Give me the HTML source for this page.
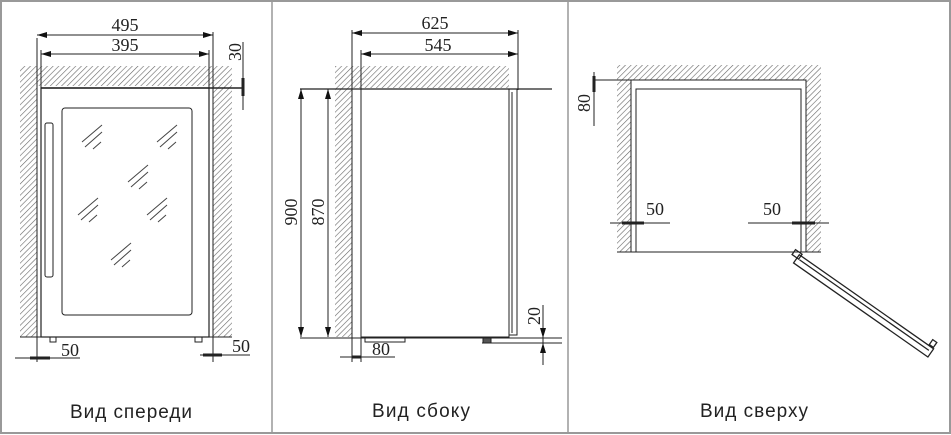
<!DOCTYPE html>
<html><head><meta charset="utf-8"><style>
html,body{margin:0;padding:0;background:#fff;}
svg{display:block;}
.n{font-family:"Liberation Serif",serif;font-size:18px;fill:#222;}
.l{font-family:"Liberation Sans","DejaVu Sans",sans-serif;font-size:19px;fill:#222;}
</style></head><body>
<svg width="951" height="435" viewBox="0 0 951 435" xmlns="http://www.w3.org/2000/svg">
<defs>
<pattern id="h" width="4" height="4" patternUnits="userSpaceOnUse" patternTransform="rotate(45)">
<line x1="0" y1="0" x2="0" y2="4" stroke="#666" stroke-width="1.2"/>
</pattern>
<marker id="a" markerWidth="10" markerHeight="6" refX="10" refY="3" orient="auto" markerUnits="userSpaceOnUse">
<path d="M0,0 L10,3 L0,6 z" fill="#111"/></marker>
<marker id="b" markerWidth="10" markerHeight="6" refX="0" refY="3" orient="auto" markerUnits="userSpaceOnUse">
<path d="M10,0 L0,3 L10,6 z" fill="#111"/></marker>
</defs>
<rect x="1" y="1" width="949" height="432" fill="none" stroke="#999" stroke-width="2"/>
<line x1="272" y1="1" x2="272" y2="433" stroke="#999" stroke-width="1.5"/>
<line x1="568" y1="1" x2="568" y2="433" stroke="#999" stroke-width="1.5"/>

<g stroke="#222" stroke-width="1" fill="none">
<!-- FRONT -->
<rect x="20" y="66" width="212" height="20" fill="url(#h)" stroke="none"/>
<rect x="20" y="86" width="17" height="251" fill="url(#h)" stroke="none"/>
<rect x="213" y="86" width="19" height="251" fill="url(#h)" stroke="none"/>
<line x1="37" y1="38" x2="37" y2="362"/>
<line x1="213" y1="32" x2="213" y2="362"/>
<line x1="41" y1="50" x2="41" y2="88"/>
<line x1="209" y1="50" x2="209" y2="88"/>
<line x1="37" y1="35" x2="213" y2="35" marker-start="url(#b)" marker-end="url(#a)"/>
<line x1="41" y1="54" x2="209" y2="54" marker-start="url(#b)" marker-end="url(#a)"/>
<rect x="41" y="88" width="168" height="249" stroke-width="1.2"/>
<line x1="41" y1="88" x2="243" y2="88" stroke-width="1.5"/>
<line x1="243" y1="42" x2="243" y2="110"/>
<line x1="243" y1="78" x2="243" y2="96" stroke-width="3"/>
<rect x="62" y="108" width="130" height="207" rx="3"/>
<rect x="45" y="123" width="8" height="154" rx="2"/>
<line x1="20" y1="337" x2="232" y2="337"/>
<rect x="50" y="337" width="6" height="5"/>
<rect x="195" y="337" width="7" height="5"/>
<line x1="15" y1="358" x2="80" y2="358"/>
<line x1="30" y1="358" x2="50" y2="358" stroke-width="3"/>
<line x1="200" y1="355" x2="250" y2="355"/>
<line x1="203" y1="355" x2="222" y2="355" stroke-width="3"/>
<g stroke="#444">
<path d="M82,142 l20,-17 M85,147 l17,-15 M93,149 l8,-7"/>
<path d="M157,142 l20,-17 M160,147 l17,-15 M168,149 l8,-7"/>
<path d="M128,182 l20,-17 M131,187 l17,-15 M139,189 l8,-7"/>
<path d="M78,215 l20,-17 M81,220 l17,-15 M89,222 l8,-7"/>
<path d="M147,215 l20,-17 M150,220 l17,-15 M158,222 l8,-7"/>
<path d="M111,260 l20,-17 M114,265 l17,-15 M122,267 l8,-7"/>
</g>

<!-- SIDE -->
<rect x="335" y="66" width="174" height="22" fill="url(#h)" stroke="none"/>
<rect x="335" y="88" width="17" height="249" fill="url(#h)" stroke="none"/>
<line x1="352" y1="30" x2="352" y2="362"/>
<line x1="361" y1="50" x2="361" y2="362"/>
<line x1="518" y1="30" x2="518" y2="90"/>
<line x1="352" y1="33" x2="518" y2="33" marker-start="url(#b)" marker-end="url(#a)"/>
<line x1="361" y1="54" x2="518" y2="54" marker-start="url(#b)" marker-end="url(#a)"/>
<line x1="300" y1="89" x2="552" y2="89" stroke-width="1.3"/>
<rect x="361" y="89" width="148" height="248"/>
<rect x="509" y="89" width="8" height="246"/>
<line x1="512" y1="92" x2="512" y2="333"/>
<line x1="301" y1="89" x2="301" y2="337" marker-start="url(#b)" marker-end="url(#a)"/>
<line x1="328" y1="89" x2="328" y2="337" marker-start="url(#b)" marker-end="url(#a)"/>
<line x1="300" y1="338" x2="562" y2="338"/>
<line x1="482" y1="343" x2="562" y2="343"/>
<rect x="365" y="338" width="40" height="4"/>
<rect x="483" y="338" width="8" height="5" fill="#555"/>
<line x1="543" y1="305" x2="543" y2="365"/>
<line x1="543" y1="326" x2="543" y2="338" marker-end="url(#a)"/>
<line x1="543" y1="355" x2="543" y2="343" marker-end="url(#a)"/>
<line x1="340" y1="357" x2="395" y2="357"/>
<line x1="352" y1="357" x2="361" y2="357" stroke-width="3"/>

<!-- TOP -->
<rect x="617" y="65" width="204" height="15" fill="url(#h)" stroke="none"/>
<rect x="617" y="80" width="14" height="172" fill="url(#h)" stroke="none"/>
<rect x="806" y="80" width="15" height="172" fill="url(#h)" stroke="none"/>
<rect x="631" y="80" width="175" height="172"/>
<path d="M636,252 V89 H801 V252"/>
<line x1="617" y1="252" x2="821" y2="252"/>
<line x1="594" y1="72" x2="594" y2="126"/>
<line x1="594" y1="76" x2="594" y2="92" stroke-width="3"/>
<line x1="594" y1="80" x2="631" y2="80"/>
<line x1="610" y1="223" x2="670" y2="223"/>
<line x1="622" y1="223" x2="644" y2="223" stroke-width="3"/>
<line x1="748" y1="223" x2="829" y2="223"/>
<line x1="792" y1="223" x2="815" y2="223" stroke-width="3"/>
<g transform="translate(797,258) rotate(35)" stroke-width="1.3">
<rect x="0" y="-4" width="164" height="10"/>
<line x1="3" y1="0" x2="161" y2="0"/>
<rect x="-6" y="-6" width="8" height="6"/>
<rect x="158" y="-11" width="5" height="6"/>
</g>
</g>

<text class="n" x="125" y="31" text-anchor="middle">495</text>
<text class="n" x="125" y="51" text-anchor="middle">395</text>
<text class="n" transform="translate(241,52) rotate(-90)" text-anchor="middle">30</text>
<text class="n" x="61" y="356">50</text>
<text class="n" x="232" y="352">50</text>
<text class="n" x="435" y="29" text-anchor="middle">625</text>
<text class="n" x="438" y="51" text-anchor="middle">545</text>
<text class="n" transform="translate(297,212) rotate(-90)" text-anchor="middle">900</text>
<text class="n" transform="translate(324,212) rotate(-90)" text-anchor="middle">870</text>
<text class="n" transform="translate(540,316) rotate(-90)" text-anchor="middle">20</text>
<text class="n" x="372" y="355">80</text>
<text class="n" transform="translate(590,103) rotate(-90)" text-anchor="middle">80</text>
<text class="n" x="646" y="215">50</text>
<text class="n" x="763" y="215">50</text>
<text class="l" x="131" y="418" text-anchor="middle" textLength="122">Вид спереди</text>
<text class="l" x="421" y="417" text-anchor="middle" textLength="98">Вид сбоку</text>
<text class="l" x="754" y="417" text-anchor="middle" textLength="108">Вид сверху</text>
</svg>
</body></html>
